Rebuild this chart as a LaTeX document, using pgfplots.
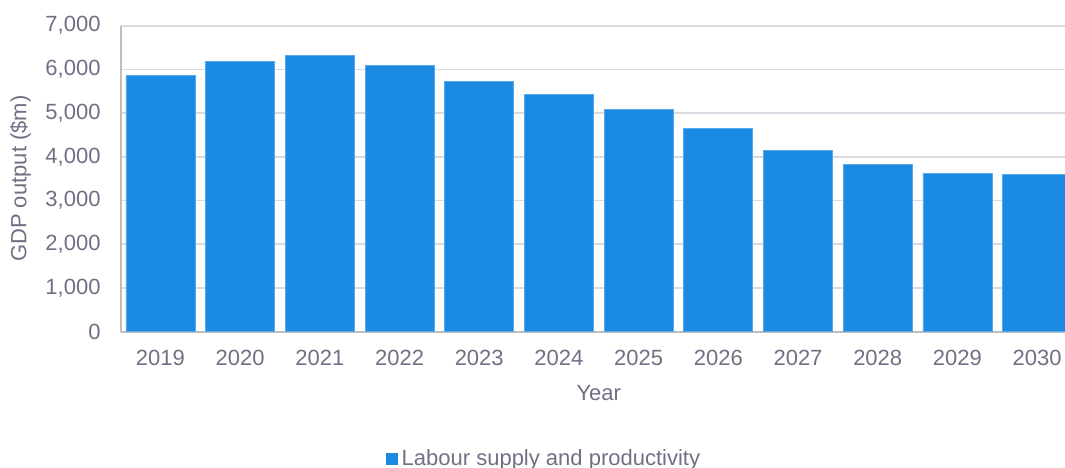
\documentclass[border=0pt]{standalone}
\usepackage{pgfplots}
\pgfplotsset{compat=1.18}
\usepackage{fontspec}
\setmainfont{Liberation Sans}
\definecolor{barblue}{RGB}{26,138,227}
\definecolor{baredge}{RGB}{90,168,238}
\definecolor{txtgrey}{RGB}{112,112,133}
\definecolor{gridgrey}{RGB}{218,218,226}
\definecolor{axisgrey}{RGB}{190,190,190}
\begin{document}
\begin{tikzpicture}
\begin{axis}[
  scale only axis,
  width=472.2pt, height=152.95pt,
  ybar, bar width=34.5pt,
  xmin=-0.5, xmax=11.35,
  ymin=0, ymax=7000,
  xtick={0,...,11},
  xticklabels={2019,2020,2021,2022,2023,2024,2025,2026,2027,2028,2029,2030},
  ytick={0,1000,...,7000},
  /pgf/number format/assume math mode=true,
  /pgf/number format/1000 sep={,},
  scaled y ticks=false,
  major tick length=0pt,
  ymajorgrids, grid style={gridgrey, line width=0.8pt},
  axis x line*=bottom, axis y line*=left,
  x axis line style={axisgrey, line width=1pt, -},
  y axis line style={axisgrey, line width=1pt, -},
  tick label style={font=\fontsize{11}{12}\selectfont, text=txtgrey},
  yticklabel style={xshift=-6.5pt},
  xticklabel style={yshift=-5.5pt},
  xlabel={Year},
  ylabel={GDP output (\$m)},
  every axis x label/.style={at={(axis cs:5.5,0)}, anchor=center, yshift=-30.7pt,
    font=\fontsize{11}{12}\selectfont, text=txtgrey},
  every axis y label/.style={at={(axis description cs:0,0.5)}, xshift=-50.1pt, rotate=90, anchor=center,
    font=\fontsize{11}{12}\selectfont, text=txtgrey},
  legend style={at={(axis description cs:0.4494,-0.4175)}, anchor=center, draw=none, fill=none,
    font=\fontsize{11}{12}\selectfont, text=txtgrey, inner sep=0pt},
  legend image code/.code={\fill[barblue] (0pt,-2.75pt) rectangle (5.5pt,2.75pt);},
]
\addplot[fill=barblue, draw=baredge, line width=0.4pt] coordinates {
  (0,5860) (1,6190) (2,6318) (3,6090) (4,5724) (5,5418)
  (6,5090) (7,4649) (8,4146) (9,3833) (10,3620) (11,3604)
};
\addlegendentry{Labour supply and productivity}
\end{axis}
\pgfresetboundingbox
\path[use as bounding box] ([xshift=-60.3pt,yshift=-68.2pt]current axis.south west) rectangle ([yshift=12.85pt]current axis.north east);
\end{tikzpicture}
\end{document}
